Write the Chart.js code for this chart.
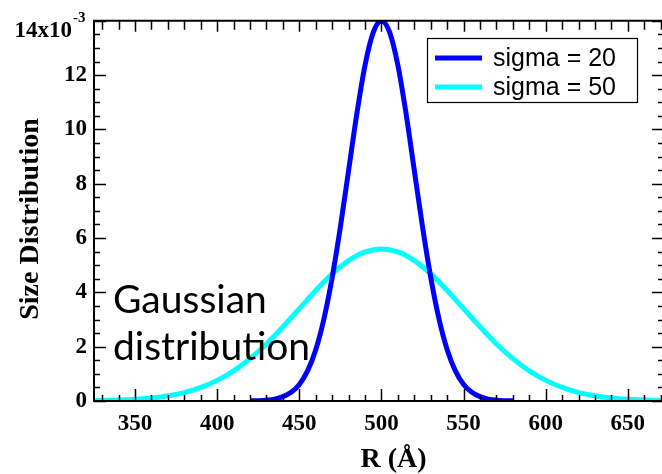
<!DOCTYPE html>
<html>
<head>
<meta charset="utf-8">
<script src="https://cdn.jsdelivr.net/npm/chart.js@4/dist/chart.umd.min.js"></script>
<style>
  html, body { margin: 0; padding: 0; background: #fff; overflow: hidden; }
  #wrap { width: 666px; height: 474px; position: relative; }
</style>
</head>
<body>
<div id="wrap"><canvas id="c"></canvas></div>
<script>
// ---- data (values in units of 1e-3) ----
const rSigma20 = [420, 425, 430, 435, 440, 445, 450, 455, 460, 465, 470, 475, 480, 485, 490, 495, 500,
                  505, 510, 515, 520, 525, 530, 535, 540, 545, 550, 555, 560, 565, 570, 575, 580];
const sizeSigma20 = [0.005, 0.01, 0.03, 0.07, 0.16, 0.32, 0.61, 1.11, 1.89, 3.03, 4.55, 6.41, 8.49, 10.57, 12.36, 13.57, 14.0,
                     13.57, 12.36, 10.57, 8.49, 6.41, 4.55, 3.03, 1.89, 1.11, 0.61, 0.32, 0.16, 0.07, 0.03, 0.01, 0.005];
const rSigma50 = [320, 330, 340, 350, 360, 370, 380, 390, 400, 410, 420, 430, 440, 450, 460, 470, 480, 490, 500,
                  510, 520, 530, 540, 550, 560, 570, 580, 590, 600, 610, 620, 630, 640, 650, 660, 670, 680];
const sizeSigma50 = [0.009, 0.017, 0.033, 0.062, 0.11, 0.19, 0.31, 0.50, 0.76, 1.11, 1.56, 2.10, 2.73, 3.40, 4.07, 4.68, 5.17, 5.49, 5.6,
                     5.49, 5.17, 4.68, 4.07, 3.40, 2.73, 2.10, 1.56, 1.11, 0.76, 0.50, 0.31, 0.19, 0.11, 0.062, 0.033, 0.017, 0.009];
const seriesLabels = ['sigma = 20', 'sigma = 50'];
const xTickValues = [350, 400, 450, 500, 550, 600, 650];
const yTickValues = [0, 2, 4, 6, 8, 10, 12, 14];
const xMinorStep = 10;
const yMinorStep = 0.5;
const xTitle = 'R (\u00C5)';
const yTitle = 'Size Distribution';
const noteLines = ['Gaussian', 'dis\u200Ctribu\u200Ction'];

const COL20 = '#0000ff';
const COL50 = '#00ffff';

const toPts = (xs, ys) => xs.map((x, i) => ({x: x, y: ys[i]}));

const tickFont = {family: '"Liberation Serif", "Times New Roman", serif', weight: 'bold', size: 23};

const framePlugin = {
  id: 'frame',
  afterDraw(chart) {
    const ctx = chart.ctx;
    const xs = chart.scales.x, ys = chart.scales.y;
    const a = chart.chartArea;
    ctx.save();
    ctx.strokeStyle = '#000';
    // frame
    ctx.lineWidth = 2;
    ctx.beginPath();
    ctx.moveTo(a.left, a.top); ctx.lineTo(a.left, a.bottom);
    ctx.moveTo(a.left - 1, a.bottom); ctx.lineTo(a.right, a.bottom);
    ctx.moveTo(a.left - 1, a.top); ctx.lineTo(a.right, a.top);
    ctx.moveTo(a.right, a.top); ctx.lineTo(a.right, a.bottom);
    ctx.stroke();
    ctx.lineWidth = 1.5;
    ctx.beginPath();
    // x ticks (bottom & top)
    for (let v = Math.ceil(xs.min / xMinorStep) * xMinorStep; v <= xs.max; v += xMinorStep) {
      const px = Math.round(xs.getPixelForValue(v)) + 0.5;
      const major = xTickValues.includes(v);
      const len = major ? 12 : 6;
      ctx.moveTo(px, a.bottom); ctx.lineTo(px, a.bottom - len);
      ctx.moveTo(px, a.top); ctx.lineTo(px, a.top + (major ? 11 : 9));
    }
    // y ticks (left & right)
    for (let v = ys.min; v <= ys.max + 1e-9; v += yMinorStep) {
      const py = Math.round(ys.getPixelForValue(v)) + 0.5;
      const major = yTickValues.includes(v);
      const len = major ? 12 : 6;
      ctx.moveTo(a.left, py); ctx.lineTo(a.left + len, py);
      ctx.moveTo(a.right, py); ctx.lineTo(a.right - len, py);
    }
    ctx.stroke();

    // top y label with exponent
    const yTop = ys.getPixelForValue(14);
    ctx.fillStyle = '#000';
    ctx.font = 'bold 23px "Liberation Serif", serif';
    ctx.textBaseline = 'alphabetic';
    ctx.textAlign = 'right';
    ctx.fillText('14x10', 72, yTop + 16);
    ctx.font = 'bold 15px "Liberation Serif", serif';
    ctx.textAlign = 'left';
    ctx.fillText('-3', 73, yTop + 1);

    // axis titles
    ctx.font = 'bold 28px "Liberation Serif", serif';
    ctx.textAlign = 'center';
    ctx.textBaseline = 'alphabetic';
    ctx.fillText(xTitle, xs.getPixelForValue(500) + 12, 467);
    ctx.save();
    ctx.translate(38, 219);
    ctx.rotate(-Math.PI / 2);
    ctx.fillText(yTitle, 0, 0);
    ctx.restore();

    // legend
    const lx = 427.5, ly = 38.5, lw = 210, lh = 64;
    ctx.fillStyle = '#fff';
    ctx.fillRect(lx, ly, lw, lh);
    ctx.lineWidth = 1.2;
    ctx.strokeStyle = '#000';
    ctx.strokeRect(lx, ly, lw, lh);
    chart.data.datasets.forEach((ds, i) => {
      const yy = 58 + i * 29;
      ctx.strokeStyle = ds.borderColor;
      ctx.lineWidth = 5;
      ctx.beginPath();
      ctx.moveTo(435, yy); ctx.lineTo(482, yy);
      ctx.stroke();
      ctx.fillStyle = '#000';
      ctx.font = '25px "Liberation Sans", Arial, sans-serif';
      ctx.textAlign = 'left';
      ctx.textBaseline = 'middle';
      ctx.fillText(ds.label, 493, yy + 1);
    });

    // annotation
    ctx.fillStyle = '#000';
    ctx.font = '39px Lato, "Open Sans", sans-serif';
    ctx.textAlign = 'left';
    ctx.textBaseline = 'alphabetic';
    ctx.fillText(noteLines[0], 113, 313);
    ctx.fillText(noteLines[1], 113, 360);
    ctx.restore();
  }
};

new Chart(document.getElementById('c'), {
  type: 'scatter',
  data: {
    datasets: [
      {label: seriesLabels[0], data: toPts(rSigma20, sizeSigma20), showLine: true, borderColor: COL20,
       backgroundColor: COL20, borderWidth: 5, pointRadius: 0, cubicInterpolationMode: 'monotone'},
      {label: seriesLabels[1], data: toPts(rSigma50, sizeSigma50), showLine: true, borderColor: COL50,
       backgroundColor: COL50, borderWidth: 5, pointRadius: 0, cubicInterpolationMode: 'monotone'}
    ]
  },
  options: {
    responsive: true,
    maintainAspectRatio: false,
    animation: false,
    events: [],
    layout: {padding: {left: 0, right: 2, top: 17, bottom: 0}},
    plugins: {legend: {display: false}, tooltip: {enabled: false}},
    scales: {
      x: {
        type: 'linear', min: 325, max: 672,
        grid: {display: false, drawTicks: false},
        border: {display: false},
        afterBuildTicks: (s) => { s.ticks = xTickValues.map(v => ({value: v})); },
        afterFit: (s) => { s.height = 73; },
        ticks: {font: tickFont, color: '#000', padding: 9, maxRotation: 0, autoSkip: false}
      },
      y: {
        type: 'linear', min: 0, max: 14,
        grid: {display: false, drawTicks: false},
        border: {display: false},
        afterBuildTicks: (s) => { s.ticks = yTickValues.map(v => ({value: v})); },
        afterFit: (s) => { s.width = 94; },
        ticks: {font: tickFont, color: '#000', padding: 7, autoSkip: false,
                callback: (v) => (v === 14 ? '' : String(v))}
      }
    }
  },
  plugins: [framePlugin]
});
</script>
</body>
</html>
